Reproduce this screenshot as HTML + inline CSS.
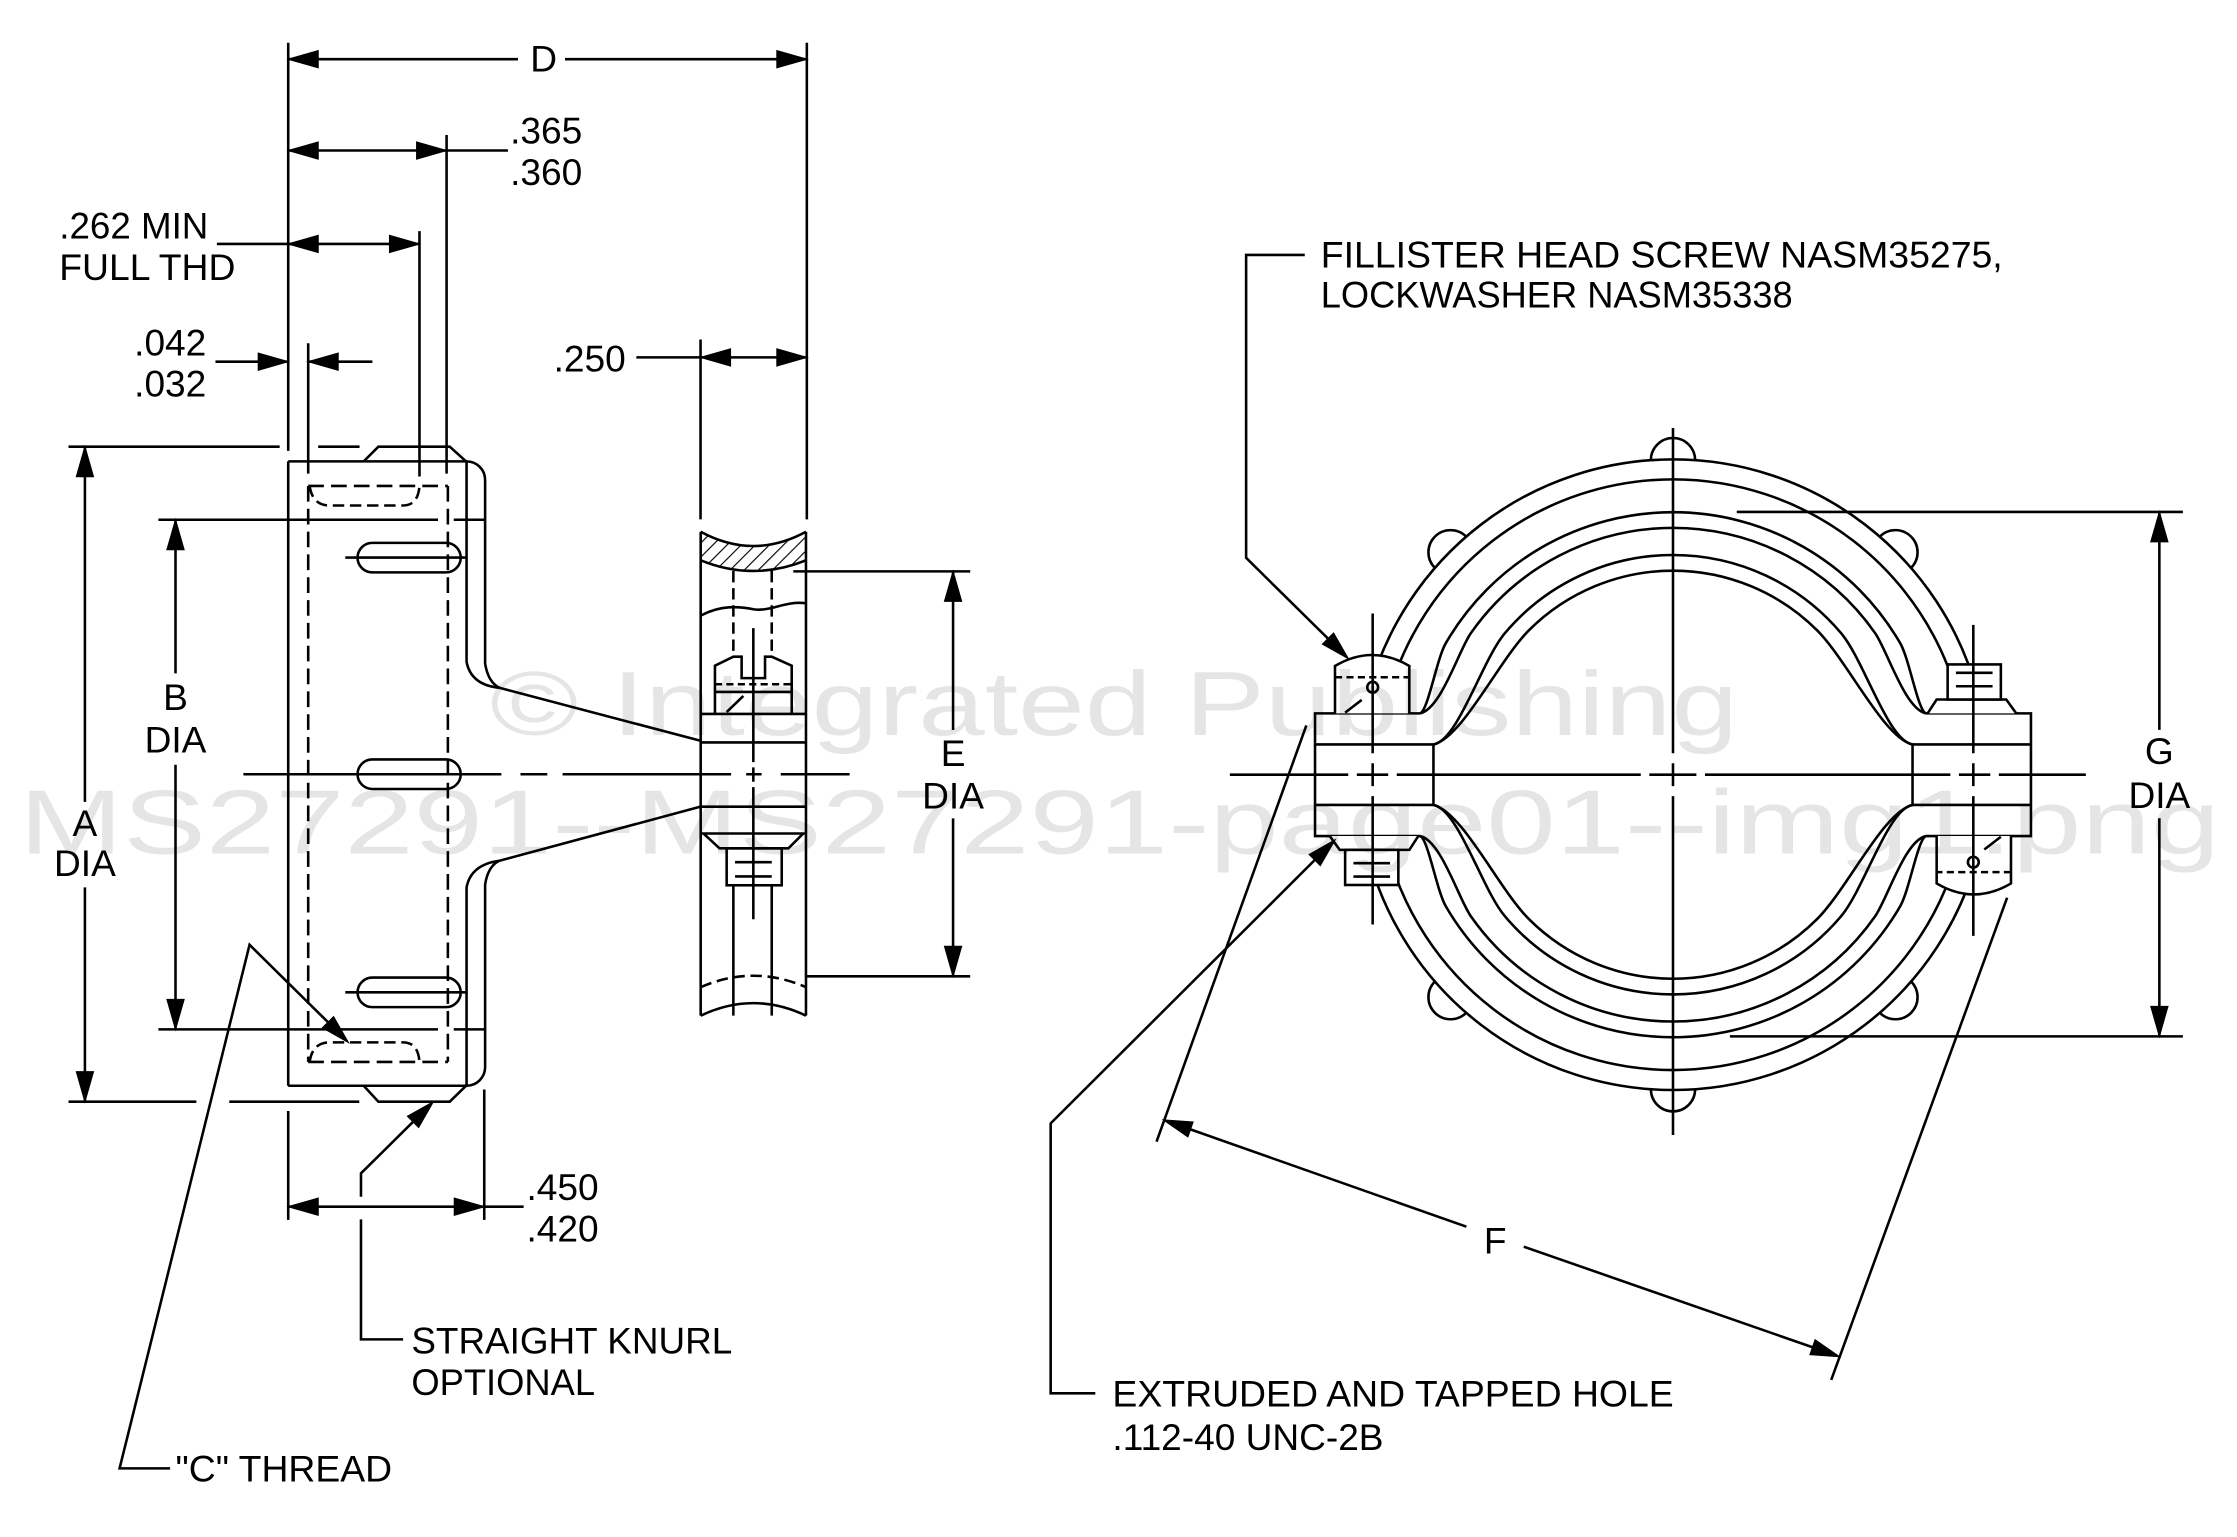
<!DOCTYPE html>
<html>
<head>
<meta charset="utf-8">
<style>
html,body{margin:0;padding:0;background:#fff;overflow:hidden}
svg{display:block}
text{font-family:"Liberation Sans",Arial,sans-serif;font-size:26px;fill:#000;stroke:none}
</style>
</head>
<body>
<svg xmlns="http://www.w3.org/2000/svg" xmlns:xlink="http://www.w3.org/1999/xlink" width="2237" height="1537" viewBox="0 0 1567.9 1077.3">
<defs>
  <pattern id="hatch" patternUnits="userSpaceOnUse" width="7" height="7" patternTransform="rotate(45)">
    <line x1="0" y1="0" x2="0" y2="7" stroke="#000" stroke-width="1.6"/>
  </pattern>
  <g id="q">
    <path d="M1172.6,322 A221,221 0 0 0 959.1,485.8"/>
    <path d="M1172.6,336 A207,207 0 0 0 972.65,489.4"/>
    <path d="M1172.6,359 A184,184 0 0 0 1013.25,451 C1006.8,462.3 1001,498 995.3,500"/>
    <path d="M1172.6,370 A173,173 0 0 0 1030.9,443.8 C1022.3,456.1 1010,497 995.3,500"/>
    <path d="M1172.6,389 A154,154 0 0 0 1054.6,444 C1038.5,463.2 1022,519 1004.7,521.8"/>
    <path d="M1172.6,400 A143,143 0 0 0 1071.5,441.9 C1050.3,463.1 1025,517 1004.7,521.8"/>
  </g>
  <path id="bump" d="M1157.1,322.5 A15.5,15.5 0 0 1 1188.1,322.5"/>
  <g id="lug">
    <path fill="#fff" stroke="none" d="M921.7,500 H995.3 V521.8 H1004.7 V564.2 H995.3 V586 H921.7 Z"/>
    <path d="M995.3,500 H921.7 V586 H995.3 M921.7,521.8 H1004.7 V564.2 H921.7"/>
    <path fill="#fff" d="M935.7,500 V466.8 Q961.7,451.4 987.8,466.8 V500"/>
    <line stroke-dasharray="5 3" x1="935.7" y1="474.7" x2="987.8" y2="474.7"/>
    <circle cx="962.1" cy="481.7" r="3.8"/>
    <line x1="942.8" y1="499.5" x2="954.4" y2="490.6"/>
    <path fill="#fff" d="M932,586 L939,595.7 H987.8 L994.1,586"/>
    <rect fill="#fff" x="942.8" y="595.7" width="37.3" height="24.6"/>
    <line x1="948.6" y1="605" x2="974.3" y2="605"/>
    <line x1="948.6" y1="614.4" x2="974.3" y2="614.4"/>
    <path d="M962.1,430 V528 M962.1,535 V551 M962.1,558 V648"/>
  </g>
</defs>

<rect x="0" y="0" width="1567.9" height="1077.3" fill="#fff"/>

<g fill="none" stroke="#000" stroke-width="1.8">

  <!-- ================= LEFT VIEW ================= -->
  <line x1="202" y1="30" x2="202" y2="316"/>
  <line x1="565.5" y1="30" x2="565.5" y2="364"/>
  <line x1="202" y1="41.5" x2="363" y2="41.5"/>
  <line x1="396" y1="41.5" x2="565.5" y2="41.5"/>
  <line x1="313" y1="94.6" x2="313" y2="332"/>
  <line x1="202" y1="105.5" x2="356" y2="105.5"/>
  <line x1="294" y1="162" x2="294" y2="334"/>
  <line x1="152" y1="171" x2="294" y2="171"/>
  <line x1="216" y1="240.6" x2="216" y2="332"/>
  <line x1="151" y1="253.5" x2="202" y2="253.5"/>
  <line x1="216" y1="253.5" x2="261" y2="253.5"/>
  <line x1="491" y1="238" x2="491" y2="364"/>
  <line x1="446" y1="250.5" x2="565.5" y2="250.5"/>

  <line x1="48" y1="313.1" x2="196" y2="313.1"/>
  <line x1="223" y1="313.1" x2="252" y2="313.1"/>
  <line x1="48" y1="772.2" x2="137.6" y2="772.2"/>
  <line x1="160.7" y1="772.2" x2="251.8" y2="772.2"/>
  <line x1="59.5" y1="313.1" x2="59.5" y2="562"/>
  <line x1="59.5" y1="622" x2="59.5" y2="772.2"/>
  <line x1="111" y1="364.3" x2="307" y2="364.3"/>
  <line x1="318" y1="364.3" x2="340" y2="364.3"/>
  <line x1="111" y1="721.5" x2="307" y2="721.5"/>
  <line x1="318" y1="721.5" x2="340" y2="721.5"/>
  <line x1="123" y1="364.3" x2="123" y2="472"/>
  <line x1="123" y1="536" x2="123" y2="721.5"/>

  <line x1="202" y1="323.4" x2="202" y2="761"/>
  <path d="M202,323.4 H327 A13,13 0 0 1 340,336.4 V465 Q342,478 350,482.1"/>
  <path d="M327,323.4 V463.8 Q330,480 350,482.1 L491,519.2"/>
  <path d="M202,761 H327 A13,13 0 0 0 340,748 V620 Q342,607 350,603.3"/>
  <path d="M327,761 V622 Q330,606 350,603.3 L491,565.4"/>
  <path d="M254.9,323.4 L265.2,313.1 H315.2 L326.7,323.4"/>
  <path d="M254.9,761 L265.2,772.2 H315.2 L326.7,761"/>
  <path stroke-dasharray="11 5" d="M216,340.6 V744.3 M313.9,340.6 V744.3 M216,340.6 H313.9 M216,744.3 H313.9"/>
  <path stroke-dasharray="8 4" d="M217,340.6 Q219,354.3 231,354.3 H282.5 Q293,354.3 294,340.6"/>
  <path stroke-dasharray="8 4" d="M217,744.3 Q219,730.6 231,730.6 H282.5 Q293,730.6 294,744.3"/>
  <rect x="250.6" y="380.5" width="72.3" height="20.7" rx="10.35"/>
  <rect x="250.6" y="532.3" width="72.3" height="20.7" rx="10.35"/>
  <rect x="250.6" y="685.2" width="72.3" height="20.7" rx="10.35"/>
  <line x1="242" y1="390.8" x2="327" y2="390.8"/>
  <line x1="242" y1="695.5" x2="327" y2="695.5"/>
  <path d="M170.6,542.7 H351.4 M364.8,542.7 H383.6 M394.3,542.7 H512.4 M523,542.7 H533.8 M547.2,542.7 H595.5"/>

  <path d="M491.1,372.7 Q528,392.7 564.9,372.7 L564.9,392.7 Q528,407.7 491.1,392.7 Z" fill="url(#hatch)" stroke="none"/>
  <path d="M491.1,372.7 Q528,392.7 564.9,372.7"/>
  <path d="M491.1,392.7 Q528,407.7 564.9,392.7"/>
  <line x1="491.1" y1="372.7" x2="491.1" y2="711.9"/>
  <line x1="564.9" y1="372.7" x2="564.9" y2="711.9"/>
  <path d="M491.1,711.9 Q528,694.3 564.9,711.9"/>
  <path stroke-dasharray="8 4" d="M491.1,691.9 Q528,675.9 564.9,691.9"/>
  <path stroke-dasharray="8 4" d="M514,400.2 V460.3 M540.9,400.2 V460.3"/>
  <path d="M491.1,431.5 C505,424 518,425 528,427 C540,429 550,421 564.9,422.8"/>
  <path d="M501.1,500.4 V466.6 L514,460.3 H519.8 V475.3 H536.2 V460.3 H540.9 L554.9,466.6 V500.4"/>
  <line stroke-dasharray="5 3" x1="501.1" y1="479.6" x2="554.9" y2="479.6"/>
  <line x1="501.1" y1="485" x2="554.9" y2="485"/>
  <line x1="509.3" y1="499.1" x2="521" y2="487.8"/>
  <line x1="491.1" y1="500.4" x2="564.9" y2="500.4"/>
  <line x1="491.1" y1="520.4" x2="564.9" y2="520.4"/>
  <line x1="491.1" y1="565.4" x2="564.9" y2="565.4"/>
  <line x1="491.1" y1="584.2" x2="564.9" y2="584.2"/>
  <path d="M493,584.2 L504.3,594.6 H552.6 L563,584.2"/>
  <rect x="509.3" y="594.6" width="38.6" height="25.9"/>
  <line x1="515.2" y1="604.3" x2="540.9" y2="604.3"/>
  <line x1="515.2" y1="614.3" x2="540.9" y2="614.3"/>
  <path d="M514,620.5 V711.9 M540.9,620.5 V711.9"/>
  <path d="M528,440.3 V534.2 M528,537.9 V547.9 M528,551.7 V644.3"/>
  <line x1="556" y1="400.5" x2="680" y2="400.5"/>
  <line x1="564.9" y1="684.3" x2="680" y2="684.3"/>
  <line x1="668" y1="400.5" x2="668" y2="511.7"/>
  <line x1="668" y1="573.6" x2="668" y2="684.3"/>

  <line x1="202" y1="778.7" x2="202" y2="855"/>
  <line x1="339.4" y1="763.6" x2="339.4" y2="855"/>
  <line x1="202" y1="845.8" x2="367" y2="845.8"/>
  <path d="M282.5,938.8 H253 V854.7 M253,838.8 V822.4 L289.5,786.3"/>
  <path d="M119.2,1029.2 H83.8 L174.9,662.2 L229.9,716.5"/>

  <!-- ================= RIGHT VIEW ================= -->
  <use xlink:href="#q" href="#q"/>
  <use xlink:href="#q" href="#q" transform="translate(2345.2,0) scale(-1,1)"/>
  <use xlink:href="#q" href="#q" transform="translate(0,1086) scale(1,-1)"/>
  <use xlink:href="#q" href="#q" transform="translate(2345.2,1086) scale(-1,-1)"/>
  <use xlink:href="#bump" href="#bump"/>
  <use xlink:href="#bump" href="#bump" transform="rotate(45 1172.6 543)"/>
  <use xlink:href="#bump" href="#bump" transform="rotate(-45 1172.6 543)"/>
  <use xlink:href="#bump" href="#bump" transform="rotate(135 1172.6 543)"/>
  <use xlink:href="#bump" href="#bump" transform="rotate(-135 1172.6 543)"/>
  <use xlink:href="#bump" href="#bump" transform="rotate(180 1172.6 543)"/>
  <use xlink:href="#lug" href="#lug"/>
  <use xlink:href="#lug" href="#lug" transform="rotate(180 1172.6 543)"/>

  <path d="M862,543 H945 M951,543 H973 M979,543 H1150 M1156,543 H1189 M1195,543 H1367 M1373,543 H1395 M1401,543 H1462"/>
  <path d="M1172.6,300 V528 M1172.6,535 V551 M1172.6,558 V795.5"/>

  <line x1="1217.3" y1="358.8" x2="1530" y2="358.8"/>
  <line x1="1212.5" y1="726.4" x2="1530" y2="726.4"/>
  <line x1="1513.5" y1="358.8" x2="1513.5" y2="511.6"/>
  <line x1="1513.5" y1="573.5" x2="1513.5" y2="726.4"/>

  <path d="M914.5,178.7 H873.4 V391 L930.8,447.6"/>
  <path d="M767.7,976.6 H736.4 V787.4 L921.5,602.8"/>
  <line x1="915.6" y1="508.5" x2="810.6" y2="800.2"/>
  <line x1="1406.8" y1="629.2" x2="1283.5" y2="967.2"/>
  <line x1="834.4" y1="791.6" x2="1027.8" y2="859.8"/>
  <line x1="1068" y1="873.8" x2="1270.4" y2="944.3"/>
</g>

<g fill="#000" stroke="#000" stroke-width="0.8" stroke-linejoin="miter">
  <polygon points="202,41.5 223,35.5 223,47.5"/>
  <polygon points="565.5,41.5 544.5,35.5 544.5,47.5"/>
  <polygon points="202,105.5 223,99.5 223,111.5"/>
  <polygon points="313,105.5 292,99.5 292,111.5"/>
  <polygon points="202,171 223,165 223,177"/>
  <polygon points="294,171 273,165 273,177"/>
  <polygon points="202,253.5 181,247.5 181,259.5"/>
  <polygon points="216,253.5 237,247.5 237,259.5"/>
  <polygon points="491,250.5 512,244.5 512,256.5"/>
  <polygon points="565.5,250.5 544.5,244.5 544.5,256.5"/>
  <polygon points="59.5,313.1 53.5,334.1 65.5,334.1"/>
  <polygon points="59.5,772.2 53.5,751.2 65.5,751.2"/>
  <polygon points="123,364.3 117,385.3 129,385.3"/>
  <polygon points="123,721.5 117,700.5 129,700.5"/>
  <polygon points="668,400.5 662,421.5 674,421.5"/>
  <polygon points="668,684.3 662,663.3 674,663.3"/>
  <polygon points="1513.5,358.8 1507.5,379.8 1519.5,379.8"/>
  <polygon points="1513.5,726.4 1507.5,705.4 1519.5,705.4"/>
  <polygon points="202,845.8 223,839.8 223,851.8"/>
  <polygon points="339.4,845.8 318.4,839.8 318.4,851.8"/>
  <polygon points="244.1,730.6 226.0,720.4 233.8,712.6"/>
  <polygon points="303.7,772.2 293.4,790.2 285.6,782.4"/>
  <polygon points="945,461.6 926.9,451.5 934.7,443.7"/>
  <polygon points="935.7,588.7 925.4,606.7 917.6,598.9"/>
  <polygon points="815.5,785 836.2,786.4 832.6,796.8"/>
  <polygon points="1289.3,950.9 1272.2,939.1 1268.6,949.5"/>
</g>

<text x="381" y="50.2" text-anchor="middle">D</text>
<text x="357.5" y="100.5">.365</text>
<text x="357.5" y="129.7">.360</text>
<text x="41.5" y="167" textLength="104.5" lengthAdjust="spacingAndGlyphs">.262 MIN</text>
<text x="41.5" y="196.2" textLength="123.5" lengthAdjust="spacingAndGlyphs">FULL THD</text>
<text x="94" y="249">.042</text>
<text x="94" y="278">.032</text>
<text x="388" y="260.5">.250</text>
<text x="123" y="497.7" text-anchor="middle">B</text>
<text x="123" y="527.3" text-anchor="middle">DIA</text>
<text x="59.5" y="586" text-anchor="middle">A</text>
<text x="59.5" y="614" text-anchor="middle">DIA</text>
<text x="668" y="537" text-anchor="middle">E</text>
<text x="668" y="566.6" text-anchor="middle">DIA</text>
<text x="1513.5" y="535.5" text-anchor="middle">G</text>
<text x="1513.5" y="566.5" text-anchor="middle">DIA</text>
<text x="369" y="841">.450</text>
<text x="369" y="870.3">.420</text>
<text x="288.3" y="948.6" textLength="224.9" lengthAdjust="spacingAndGlyphs">STRAIGHT KNURL</text>
<text x="288.3" y="977.8" textLength="128.8" lengthAdjust="spacingAndGlyphs">OPTIONAL</text>
<text x="123" y="1038.5" textLength="151.8" lengthAdjust="spacingAndGlyphs">"C" THREAD</text>
<text x="925.7" y="187.5" textLength="478" lengthAdjust="spacingAndGlyphs">FILLISTER HEAD SCREW NASM35275,</text>
<text x="925.7" y="215.5" textLength="330.8" lengthAdjust="spacingAndGlyphs">LOCKWASHER NASM35338</text>
<text x="779.7" y="986" textLength="393.4" lengthAdjust="spacingAndGlyphs">EXTRUDED AND TAPPED HOLE</text>
<text x="779.7" y="1016.3" textLength="190" lengthAdjust="spacingAndGlyphs">.112-40 UNC-2B</text>
<text x="1048" y="878.5" text-anchor="middle">F</text>

<text x="343.4" y="515.2" style="font-size:63.5px;fill:#000;fill-opacity:0.10" textLength="874.8" lengthAdjust="spacingAndGlyphs">© Integrated Publishing</text>
<text x="13.4" y="598.1" style="font-size:63.5px;fill:#000;fill-opacity:0.10" textLength="1542.6" lengthAdjust="spacingAndGlyphs">MS27291--MS27291-page01--img1.png</text>
</svg>
</body>
</html>
